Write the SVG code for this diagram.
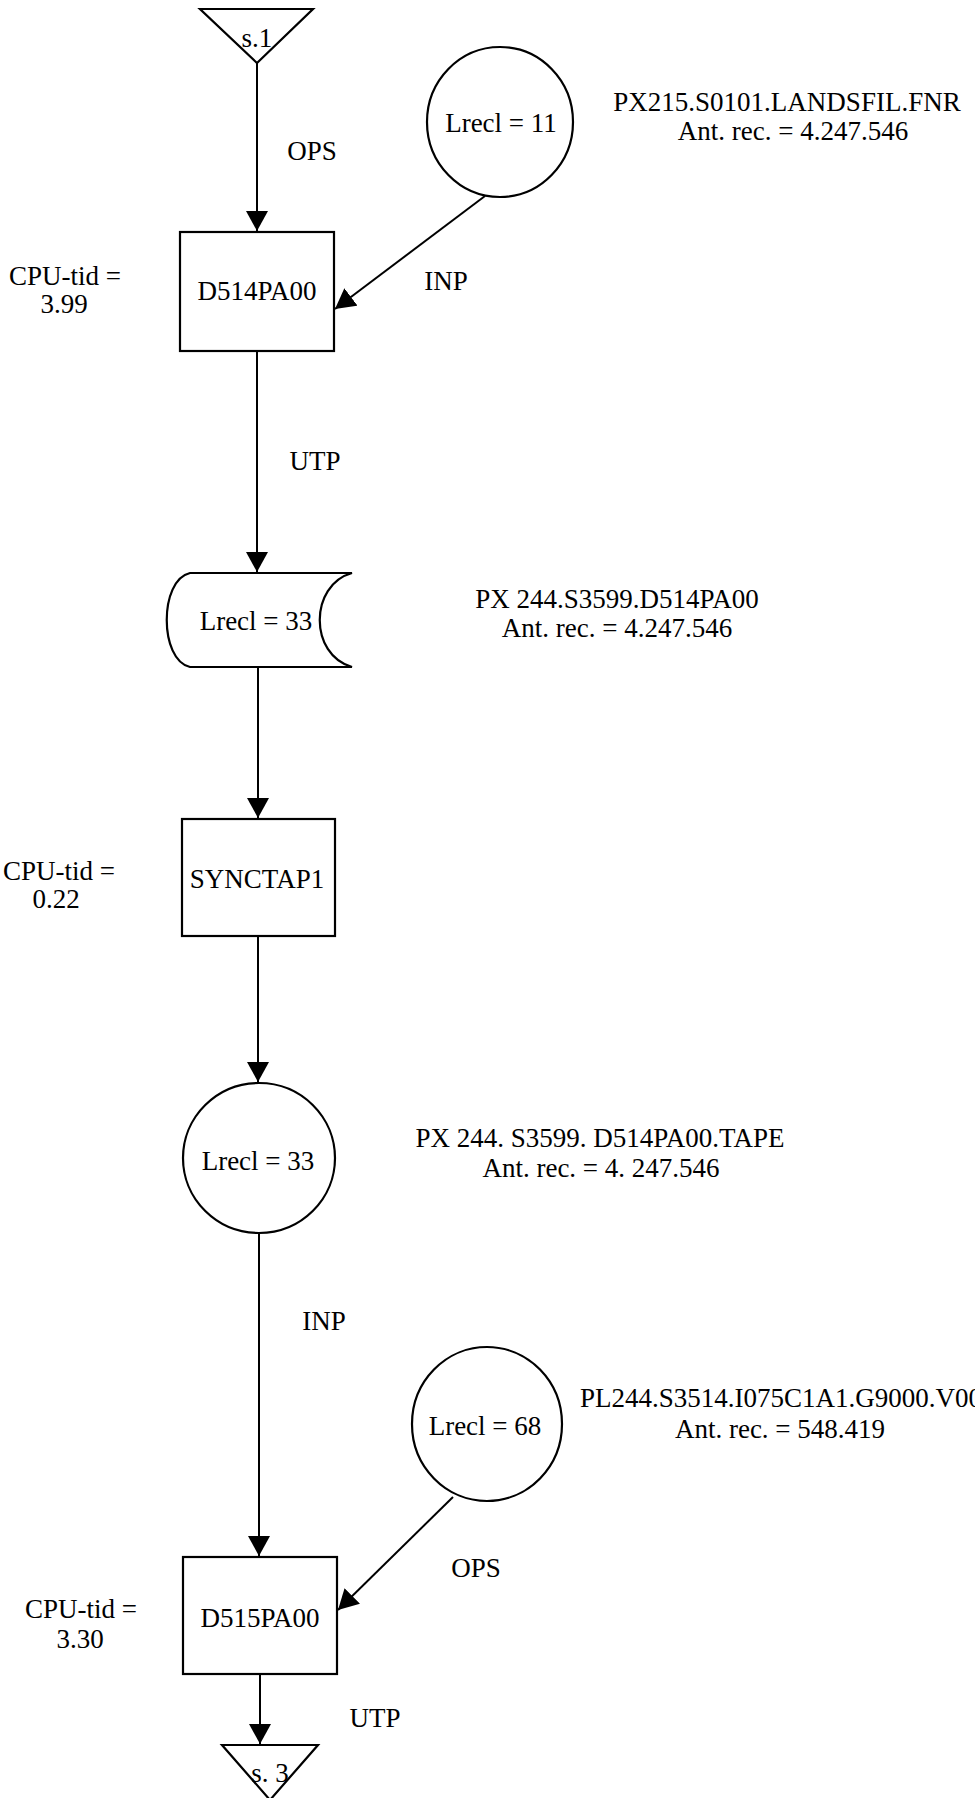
<svg xmlns="http://www.w3.org/2000/svg" width="975" height="1798" viewBox="0 0 975 1798">
<style>
  .shape { fill: #fff; stroke: #000; stroke-width: 2.2; }
  .conn { fill: none; stroke: #000; stroke-width: 2; }
  text { font-family: "Liberation Serif", "Times New Roman", serif; font-size: 27px; fill: #000; text-anchor: middle; }
  .lft { text-anchor: start; }
</style>
<defs>
  <marker id="arr" markerUnits="userSpaceOnUse" markerWidth="22" markerHeight="22" refX="20" refY="11" orient="auto">
    <path d="M0,0 L20,11 L0,22 Z" fill="#000"/>
  </marker>
</defs>
<rect width="975" height="1798" fill="#fff"/>

<g id="connectors">
  <line class="conn" x1="257" y1="63" x2="257" y2="231" marker-end="url(#arr)"/>
  <line class="conn" x1="485" y1="196" x2="335" y2="309" marker-end="url(#arr)"/>
  <line class="conn" x1="257" y1="351" x2="257" y2="572" marker-end="url(#arr)"/>
  <line class="conn" x1="258" y1="667" x2="258" y2="818" marker-end="url(#arr)"/>
  <line class="conn" x1="258" y1="936" x2="258" y2="1082" marker-end="url(#arr)"/>
  <line class="conn" x1="259" y1="1233" x2="259" y2="1556" marker-end="url(#arr)"/>
  <line class="conn" x1="453" y1="1497" x2="338" y2="1610" marker-end="url(#arr)"/>
  <line class="conn" x1="260" y1="1674" x2="260" y2="1744" marker-end="url(#arr)"/>
  <text x="312" y="160">OPS</text>
  <text x="446" y="290">INP</text>
  <text x="315" y="470">UTP</text>
  <text x="324" y="1330">INP</text>
  <text x="476" y="1577">OPS</text>
  <text x="375" y="1727">UTP</text>
</g>

<g id="s1">
  <polygon class="shape" points="200,9 313,9 257,63"/>
  <text x="257" y="47" font-size="26">s.1</text>
</g>

<g id="file1">
  <ellipse class="shape" cx="500" cy="122" rx="73" ry="75"/>
  <text x="501" y="132">Lrecl = 11</text>
  <text x="787" y="111">PX215.S0101.LANDSFIL.FNR</text>
  <text x="793" y="140">Ant. rec. = 4.247.546</text>
</g>

<g id="d514pa00">
  <rect class="shape" x="180" y="232" width="154" height="119"/>
  <text x="257" y="300">D514PA00</text>
  <text x="65" y="285">CPU-tid =</text>
  <text x="64" y="313">3.99</text>
</g>

<g id="tape1">
  <path class="shape" d="M190,573 L352,573 C309,585 309,655 352,667 L190,667 C159,660 159,580 190,573 Z"/>
  <text x="256" y="630">Lrecl = 33</text>
  <text x="617" y="608">PX 244.S3599.D514PA00</text>
  <text x="617" y="637">Ant. rec. = 4.247.546</text>
</g>

<g id="synctap1">
  <rect class="shape" x="182" y="819" width="153" height="117"/>
  <text x="257" y="888">SYNCTAP1</text>
  <text x="59" y="880">CPU-tid =</text>
  <text x="56" y="908">0.22</text>
</g>

<g id="file2">
  <ellipse class="shape" cx="259" cy="1158" rx="76" ry="75"/>
  <text x="258" y="1170">Lrecl = 33</text>
  <text x="600" y="1147">PX 244. S3599. D514PA00.TAPE</text>
  <text x="601" y="1177">Ant. rec. = 4. 247.546</text>
</g>

<g id="file3">
  <ellipse class="shape" cx="487" cy="1424" rx="75" ry="77"/>
  <text x="485" y="1435">Lrecl = 68</text>
  <text class="lft" x="580" y="1407">PL244.S3514.I075C1A1.G9000.V00</text>
  <text x="780" y="1438">Ant. rec. = 548.419</text>
</g>

<g id="d515pa00">
  <rect class="shape" x="183" y="1557" width="154" height="117"/>
  <text x="260" y="1627">D515PA00</text>
  <text x="81" y="1618">CPU-tid =</text>
  <text x="80" y="1648">3.30</text>
</g>

<g id="s3">
  <polygon class="shape" points="222,1745 318,1745 270,1800"/>
  <text x="270" y="1782" font-size="26">s. 3</text>
</g>
</svg>
